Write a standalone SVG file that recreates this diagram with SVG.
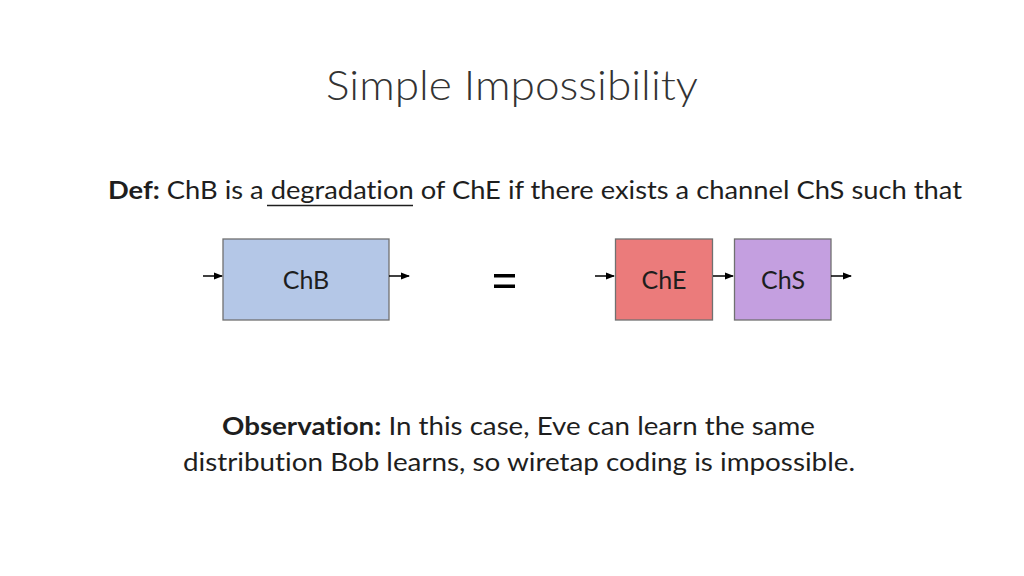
<svg xmlns="http://www.w3.org/2000/svg" width="1024" height="576" viewBox="0 0 1024 576">
<style>
text{font-family:Lato,"Open Sans","Liberation Sans",sans-serif;fill:#1e1e1e;font-variant-ligatures:none}
.t{font-size:41px;font-weight:300;fill:#333}
.b{font-size:25px}
.lbl{font-size:25px;text-anchor:middle}
.box{stroke:#707070;stroke-width:1.3}
.arr{stroke:#000;stroke-width:1.5;fill:none}
</style>
<defs>
<marker id="ah" markerWidth="9" markerHeight="8" refX="8" refY="4" orient="auto" markerUnits="userSpaceOnUse">
<path d="M0,0.5 L9,4 L0,7.5 Z" fill="#000"/>
</marker>
</defs>
<rect width="1024" height="576" fill="#fff"/>
<text class="t" x="326" y="100" textLength="372" lengthAdjust="spacingAndGlyphs">Simple Impossibility</text>
<text class="b" x="108" y="199" textLength="854" lengthAdjust="spacingAndGlyphs"><tspan font-weight="bold">Def:</tspan> ChB is a degradation of ChE if there exists a channel ChS such that</text>
<line x1="267" y1="205.5" x2="413" y2="205.5" stroke="#1e1e1e" stroke-width="1.5"/>
<g id="chb">
<rect class="box" x="223" y="239" width="166" height="81" fill="#b4c7e7"/>
<text class="lbl" x="306" y="289">ChB</text>
</g>
<g id="eq">
<rect x="494" y="274" width="21" height="3.5" fill="#000"/>
<rect x="494" y="284.5" width="21" height="3.5" fill="#000"/>
</g>
<g id="che">
<rect class="box" x="615.5" y="239" width="97" height="81" fill="#eb7b7b"/>
<text class="lbl" x="664" y="289">ChE</text>
</g>
<g id="chs">
<rect class="box" x="734.5" y="239" width="96.5" height="81" fill="#c49fe0"/>
<text class="lbl" x="783" y="289">ChS</text>
</g>
<g id="connectors">
<line class="arr" x1="203" y1="276" x2="222" y2="276" marker-end="url(#ah)"/>
<line class="arr" x1="389" y1="276" x2="409" y2="276" marker-end="url(#ah)"/>
<line class="arr" x1="595" y1="276" x2="614" y2="276" marker-end="url(#ah)"/>
<line class="arr" x1="713" y1="276" x2="733" y2="276" marker-end="url(#ah)"/>
<line class="arr" x1="831" y1="276" x2="851" y2="276" marker-end="url(#ah)"/>
</g>
<text class="b" x="222" y="435" textLength="593" lengthAdjust="spacingAndGlyphs"><tspan font-weight="bold">Observation:</tspan> In this case, Eve can learn the same</text>
<text class="b" x="183" y="471" textLength="672" lengthAdjust="spacingAndGlyphs">distribution Bob learns, so wiretap coding is impossible.</text>
</svg>
